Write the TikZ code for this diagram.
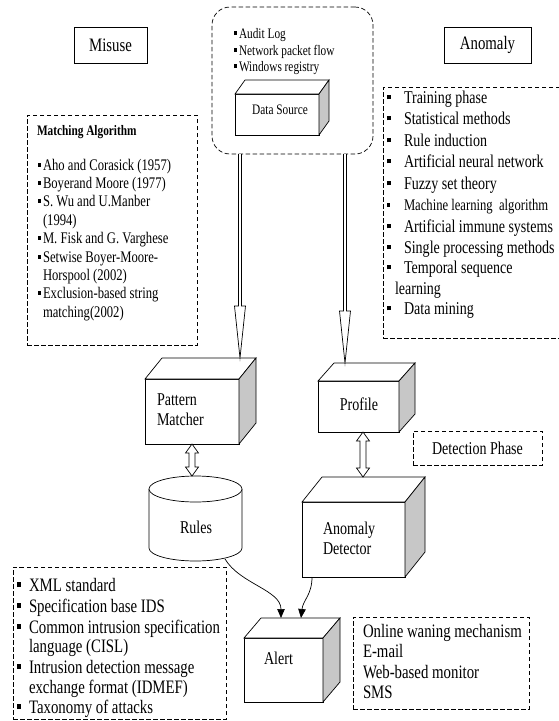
\documentclass[tikz,border=0pt]{standalone}
\usepackage{fontspec}
\setmainfont{Liberation Serif}[FakeStretch=0.78]
\usetikzlibrary{arrows.meta,calc}

\newcommand{\blt}{\rule[0.2em]{0.2em}{0.26em}}
% box with a top face and a grey side face
\newcommand{\solidbox}[7]{
\node[frontface, minimum width=#4, minimum height=#5] (#1) at ({#2+#4/2},{#3+#5/2}) {};
\draw[fill=white] (#1.north west) -- ++(#6,#7) -- ++(#4,0) -- (#1.north east) -- cycle;
\draw[fill=black!22] (#1.north east) -- ++(#6,#7) -- ++(0,#5) -- (#1.south east) -- cycle;
}
\newcommand{\bitem}[6]{
\node[item,#2] (#1) at (#3,#4) {\llap{\blt\hspace{#5pt}}#6};
}
\newcommand{\hollowdown}[2]{
\draw[fill=white] let \p1=(#1), \p2=(#2) in (\x2-1.5pt,\y1) -- (\x2-1.5pt,\y2+52pt) -- (\x2-5.5pt,\y2+52pt) -- (\x2,\y2) -- (\x2+5.5pt,\y2+52pt) -- (\x2+1.5pt,\y2+52pt) -- (\x2+1.5pt,\y1);
}
\newcommand{\dblarrow}[2]{
\draw[fill=white] let \p1=(#1), \p2=(#2) in (\x1,\y1) -- (\x1-6.5pt,\y1-9pt) -- (\x1-3pt,\y1-9pt) -- (\x1-3pt,\y2+9pt) -- (\x1-6.5pt,\y2+9pt) -- (\x1,\y2) -- (\x1+6.5pt,\y2+9pt) -- (\x1+3pt,\y2+9pt) -- (\x1+3pt,\y1-9pt) -- (\x1+6.5pt,\y1-9pt) -- cycle;
}

\tikzset{
every node/.style={inner sep=0pt, outer sep=0pt},
item/.style={anchor=base west},
txtsmall/.style={font=\fontsize{14.5}{16.5}\selectfont},
txtmid/.style={font=\fontsize{16.2}{18.4}\selectfont},
txtbig/.style={font=\fontsize{18}{20.5}\selectfont},
txtlarge/.style={font=\fontsize{19}{21}\selectfont},
dashbox/.style={draw, dash pattern=on 4.5pt off 2.5pt},
frontface/.style={draw, fill=white},
tip/.style={-{Triangle[length=9pt,width=7.5pt]}},
}

\begin{document}
\begin{tikzpicture}[x=1pt, y=-1pt, line width=0.7pt]
\useasboundingbox (0,0) rectangle (558,721);

\node[draw, txtlarge, minimum width=73, minimum height=36] (misuse) at (110.5,45) {Misuse};
\node[draw, txtlarge, minimum width=87, minimum height=36] (anomaly) at (487.5,45) {Anomaly};

% data source
\node[dashbox, rounded corners=18pt, minimum width=161, minimum height=147] (src) at (292.5,80.5) {};
\bitem{ds1}{txtsmall}{239}{38}{2}{Audit Log}
\bitem{ds2}{txtsmall}{239}{55}{2}{Network packet flow}
\bitem{ds3}{txtsmall}{239}{71}{2}{Windows registry}
\solidbox{data}{235}{94}{84}{41}{10}{-14}
\node[txtsmall] (datatxt) at (280,110) {Data Source};

% matching algorithms
\node[dashbox, minimum width=170, minimum height=230] (algbox) at (112,230) {};
\node[item, font=\bfseries\fontsize{14.5}{16}\selectfont] (algtitle) at (37,135) {Matching Algorithm};
\bitem{al1}{txtmid}{43}{170}{2}{Aho and Corasick (1957)}
\bitem{al2}{txtmid}{43}{188}{2}{Boyerand Moore (1977)}
\bitem{al3}{txtmid}{43}{206}{2}{S. Wu and U.Manber}
\node[item, txtmid] (al3b) at (43,225) {(1994)};
\bitem{al4}{txtmid}{43}{243}{2}{M. Fisk and G. Varghese}
\bitem{al5}{txtmid}{43}{262}{2}{Setwise Boyer-Moore-}
\node[item, txtmid] (al5b) at (43,280) {Horspool (2002)};
\bitem{al6}{txtmid}{43}{298}{2}{Exclusion-based string}
\node[item, txtmid] (al6b) at (43,317) {matching(2002)};

% anomaly methods
\node[dashbox, minimum width=180, minimum height=251] (anbox) at (473,212.5) {};
\bitem{an1}{txtbig}{404}{103}{13}{Training phase}
\bitem{an2}{txtbig}{404}{124}{13}{Statistical methods}
\bitem{an3}{txtbig}{404}{146}{13}{Rule induction}
\bitem{an4}{txtbig}{404}{167}{13}{Artificial neural network}
\bitem{an5}{txtbig}{404}{189}{13}{Fuzzy set theory}
\bitem{an6}{txtmid}{404}{210}{14}{Machine learning~ algorithm}
\bitem{an7}{txtbig}{404}{232}{13}{Artificial immune systems}
\bitem{an8}{txtbig}{404}{253}{13}{Single processing methods}
\bitem{an9}{txtbig}{404}{273}{13}{Temporal sequence}
\node[item, txtbig] (an9b) at (395,294) {learning};
\bitem{an10}{txtbig}{404}{314}{13}{Data mining}

% detection
\solidbox{pm}{145}{379}{94}{65}{17}{-21}
\node[item, txtbig] (pmtxt1) at (157,405) {Pattern};
\node[item, txtbig] (pmtxt2) at (157,425) {Matcher};
\solidbox{prof}{318}{381}{81}{51}{16}{-18}
\node[txtbig] (proftxt) at (359,404) {Profile};
\node[dashbox, txtbig, minimum width=129, minimum height=34] (phase) at (477.5,448) {Detection Phase};
\solidbox{det}{302}{502}{103}{75}{20}{-25}
\node[item, txtbig] (dettxt1) at (323,534) {Anomaly};
\node[item, txtbig] (dettxt2) at (323,554) {Detector};

\node[minimum width=93, minimum height=85] (rules) at (195.5,518.5) {};
\draw[fill=white] ($(rules.north west)+(0,13)$) -- ($(rules.south west)+(0,-13)$) arc[start angle=180, end angle=0, x radius=46.5, y radius=13] -- ($(rules.north east)+(0,13)$);
\draw[fill=white] ($(rules.north)+(0,13)$) ellipse [x radius=46.5, y radius=13];
\node[txtbig] (rulestxt) at (196,527) {Rules};

\solidbox{alert}{244}{638}{79}{64}{17}{-20}
\node[txtbig] (alerttxt) at (278.5,658) {Alert};

% standards and alert channels
\node[dashbox, minimum width=213, minimum height=152] (stdbox) at (119.5,643) {};
\bitem{st1}{txtlarge}{29}{591}{8}{XML standard}
\bitem{st2}{txtlarge}{29}{612}{8}{Specification base IDS}
\bitem{st3}{txtlarge}{29}{633}{8}{Common intrusion specification}
\node[item, txtlarge] (st3b) at (29,652) {language (CISL)};
\bitem{st4}{txtlarge}{29}{673}{8}{Intrusion detection message}
\node[item, txtlarge] (st4b) at (29,693) {exchange format (IDMEF)};
\bitem{st5}{txtlarge}{29}{713}{8}{Taxonomy of attacks}

\node[dashbox, minimum width=176, minimum height=92] (warnbox) at (441,663) {};
\node[item, txtlarge] (w1) at (363,637) {Online waning mechanism};
\node[item, txtlarge] (w2) at (363,657) {E-mail};
\node[item, txtlarge] (w3) at (363,678) {Web-based monitor};
\node[item, txtlarge] (w4) at (363,698) {SMS};

% connectors
\coordinate (pmin) at (240,358);
\coordinate (profin) at (345,363);
\coordinate (detin) at (363,477);
\coordinate (rulesout) at (225,559);
\coordinate (detout) at (312,577);
\coordinate (alertin1) at (281,618);
\coordinate (alertin2) at (301,618);
\hollowdown{src.south -| pmin}{pmin}
\hollowdown{src.south -| profin}{profin}
\dblarrow{pm.south}{pm.south |- rules.north}
\dblarrow{prof.south -| detin}{detin}
\draw[tip] (rulesout) .. controls +(15,25) and +(0,-28) .. (alertin1);
\draw[tip] (detout) .. controls +(0,18) and +(2,-18) .. (alertin2);

\end{tikzpicture}
\end{document}
